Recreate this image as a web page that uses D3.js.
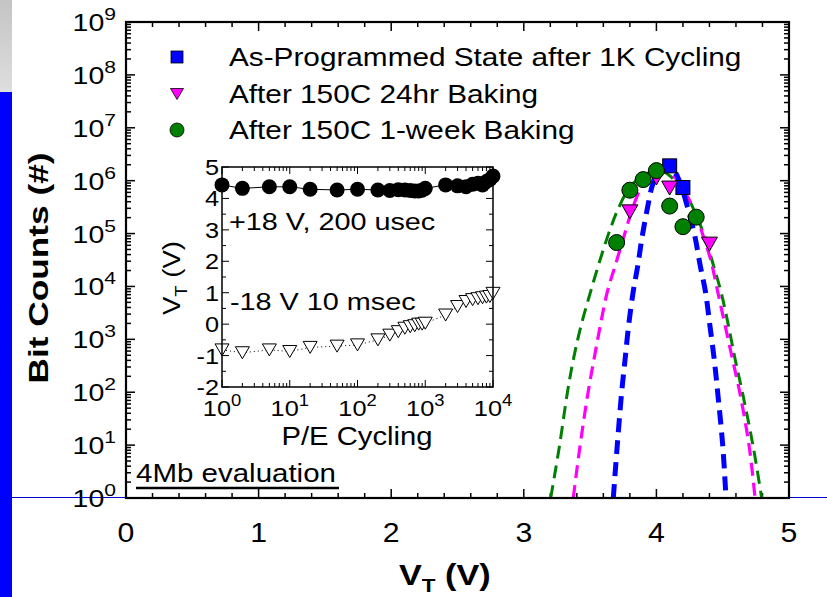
<!DOCTYPE html>
<html>
<head>
<meta charset="utf-8">
<script src="https://cdn.jsdelivr.net/npm/d3@7"></script>
<style>
  html, body { margin: 0; padding: 0; background: #fff; }
  svg { display: block; }
</style>
</head>
<body>
<svg id="chart" width="827" height="597"></svg>
<script>
// ---- data ----
// main plot: VT (V) vs bit count, values as [VT, log10(count)]
const programmedPts = [[4.1, 6.28], [4.2, 5.87]]
const bake24Pts = [[3.8, 5.41], [4.0, 6.05], [4.1, 5.86], [4.4, 4.80]]
const bakeWeekPts = [[3.7, 4.83], [3.8, 5.82], [3.9, 6.02], [4.0, 6.19], [4.1, 5.52], [4.2, 5.13], [4.3, 5.31]]

// dashed fit curves, read point by point
const programmedFit = [[3.675, 0], [3.705, 1], [3.738, 2], [3.763, 2.6], [3.79, 3.25], [3.825, 3.9], [3.86, 4.4], [3.89, 4.9], [3.93, 5.45], [3.975, 5.95], [4.03, 6.2], [4.08, 6.27], [4.13, 6.2], [4.18, 5.95], [4.24, 5.45], [4.29, 4.95], [4.33, 4.4], [4.37, 3.9], [4.404, 3.25], [4.437, 2.6], [4.462, 2], [4.5, 1], [4.525, 0]]
const bake24Fit = [[3.373, 0], [3.425, 1], [3.485, 2], [3.535, 2.7], [3.58, 3.3], [3.63, 3.9], [3.69, 4.4], [3.75, 4.9], [3.81, 5.4], [3.88, 5.85], [3.95, 6.1], [4.03, 6.2], [4.1, 6.15], [4.2, 5.85], [4.29, 5.4], [4.36, 4.9], [4.41, 4.5], [4.465, 3.87], [4.52, 3.24], [4.575, 2.61], [4.63, 1.98], [4.7, 0.97], [4.744, 0]]
const bakeWeekFit = [[3.203, 0], [3.268, 0.97], [3.328, 1.98], [3.373, 2.61], [3.43, 3.24], [3.5, 3.87], [3.575, 4.5], [3.64, 5.0], [3.7, 5.4], [3.78, 5.8], [3.87, 6.05], [3.97, 6.17], [4.05, 6.17], [4.12, 6.05], [4.21, 5.8], [4.3, 5.35], [4.37, 4.9], [4.43, 4.4], [4.49, 3.87], [4.545, 3.24], [4.595, 2.61], [4.65, 1.98], [4.73, 0.97], [4.794, 0]]

const legendLabels = ['As-Programmed State after 1K Cycling', 'After 150C 24hr Baking', 'After 150C 1-week Baking']
const xTicks = [0, 1, 2, 3, 4, 5]
const yExponents = [0, 1, 2, 3, 4, 5, 6, 7, 8, 9]

// inset: VT vs P/E cycles
const cycles = [1, 2, 5, 10, 20, 50, 100, 200, 300, 400, 500, 600, 700, 800, 900, 1000, 2000, 3000, 4000, 5000, 6000, 7000, 8000, 9000, 10000]
const vtProgram = [4.43, 4.32, 4.37, 4.37, 4.29, 4.27, 4.29, 4.27, 4.25, 4.28, 4.27, 4.25, 4.24, 4.24, 4.26, 4.32, 4.43, 4.4, 4.37, 4.45, 4.48, 4.43, 4.54, 4.6, 4.71]
const vtErase = [-0.82, -0.91, -0.82, -0.87, -0.74, -0.7, -0.66, -0.5, -0.35, -0.24, -0.13, -0.08, -0.05, 0.0, 0.0, 0.03, 0.29, 0.56, 0.72, 0.78, 0.81, 0.84, 0.86, 0.88, 0.98]
const insetYTicks = [-2, -1, 0, 1, 2, 3, 4, 5]
const insetXExponents = [0, 1, 2, 3, 4]

// ---- drawing ----
const FONT = 'Liberation Sans, Arial, Helvetica, sans-serif'
const SX = 1.2
const svg = d3.select('#chart')

function label(parent, x, y, size, opts = {}) {
  return parent
    .append('text')
    .attr('transform', `translate(${x},${y}) rotate(${opts.rot || 0}) scale(${opts.sx || SX},1)`)
    .attr('font-family', FONT)
    .attr('font-size', size)
    .attr('font-weight', opts.bold ? 'bold' : 'normal')
    .attr('text-anchor', opts.anchor || 'start')
    .attr('fill', '#000')
}

// slide decoration on the far left
const defs = svg.append('defs')
const grad = defs.append('linearGradient').attr('id', 'gray').attr('x1', 0).attr('y1', 0).attr('x2', 0).attr('y2', 1)
grad.append('stop').attr('offset', '0%').attr('stop-color', '#c4c4c4')
grad.append('stop').attr('offset', '100%').attr('stop-color', '#dedede')
svg.append('rect').attr('x', 0).attr('y', 0).attr('width', 12).attr('height', 92).attr('fill', 'url(#gray)')
svg.append('rect').attr('x', 0).attr('y', 92).attr('width', 12).attr('height', 505).attr('fill', '#0000ff')
svg.append('line').attr('x1', 12).attr('x2', 827).attr('y1', 497.5).attr('y2', 497.5)
  .attr('stroke', '#0000cc').attr('stroke-width', 1.2)

// main scales
const x = d3.scaleLinear().domain([0, 5]).range([126, 789])
const y = d3.scaleLog().domain([1, 1e9]).range([498, 22])
const yl = v => y(Math.pow(10, v))

svg.append('rect').attr('x', 126).attr('y', 22).attr('width', 663).attr('height', 476).attr('fill', '#fff')

// ticks, all pointing inward
const xMinor = d3.range(0, 5.001, 0.2).filter(v => Math.abs(v - Math.round(v)) > 1e-6)
const yMinor = []
yExponents.slice(0, -1).forEach(e => { for (let k = 2; k <= 9; k++) yMinor.push(k * Math.pow(10, e)) })
const yMajor = yExponents.map(e => Math.pow(10, e))

const ticks = svg.append('g').attr('stroke', '#000').attr('stroke-width', 1.5)
function tickLines(vals, pos, len) {
  ticks.selectAll(null).data(vals).join('line').each(function (d) {
    const p = pos(d, len)
    d3.select(this).attr('x1', p[0]).attr('y1', p[1]).attr('x2', p[2]).attr('y2', p[3])
  })
}
tickLines(xTicks, (d, l) => [x(d), 498, x(d), 498 - l], 9)
tickLines(xMinor, (d, l) => [x(d), 498, x(d), 498 - l], 5)
tickLines(xTicks, (d, l) => [x(d), 22, x(d), 22 + l], 9)
tickLines(xMinor, (d, l) => [x(d), 22, x(d), 22 + l], 5)
tickLines(yMajor, (d, l) => [126, y(d), 126 + l, y(d)], 9)
tickLines(yMinor, (d, l) => [126, y(d), 126 + l, y(d)], 5)
tickLines(yMajor, (d, l) => [789, y(d), 789 - l, y(d)], 9)
tickLines(yMinor, (d, l) => [789, y(d), 789 - l, y(d)], 5)

// tick labels
xTicks.forEach(d => label(svg, x(d), 542, 27, { anchor: 'middle', sx: 1.12 }).text(d))
yExponents.forEach(e => {
  const t = label(svg, 116, yl(e) + 9, 23, { anchor: 'end', sx: 1.24 })
  t.append('tspan').text('10')
  t.append('tspan').attr('dy', -11).attr('font-size', 17).text(e)
})

// axis titles
const xt = label(svg, 399, 585, 29, { bold: true, sx: 1.18 })
xt.append('tspan').text('V')
xt.append('tspan').attr('dy', 7).attr('font-size', 19).text('T')
xt.append('tspan').attr('dy', -7).text(' (V)')
label(svg, 48, 268, 28, { bold: true, rot: -90, anchor: 'middle', sx: 1.26 }).text('Bit Counts (#)')

// fit curves, clipped to the frame
defs.append('clipPath').attr('id', 'frame').append('rect')
  .attr('x', 126).attr('y', 22).attr('width', 663).attr('height', 476)
const curve = d3.line().x(d => x(d[0])).y(d => yl(d[1])).curve(d3.curveCatmullRom)
const curves = svg.append('g').attr('clip-path', 'url(#frame)').attr('fill', 'none')
curves.append('path').attr('d', curve(bakeWeekFit)).attr('stroke', '#008000').attr('stroke-width', 3).attr('stroke-dasharray', '13,7')
curves.append('path').attr('d', curve(bake24Fit)).attr('stroke', '#ff00ff').attr('stroke-width', 3.2).attr('stroke-dasharray', '13,7')
curves.append('path').attr('d', curve(programmedFit)).attr('stroke', '#0000ff').attr('stroke-width', 5).attr('stroke-dasharray', '14,8')

// markers
const tri = (cx, cy, w, h) => `M${cx - w / 2},${cy - h / 2}L${cx + w / 2},${cy - h / 2}L${cx},${cy + h / 2}Z`
svg.append('g').selectAll('rect').data(programmedPts).join('rect')
  .attr('x', d => x(d[0]) - 7).attr('y', d => yl(d[1]) - 7).attr('width', 14).attr('height', 14)
  .attr('fill', '#0000ff').attr('stroke', '#000').attr('stroke-width', 1)
svg.append('g').selectAll('path').data(bake24Pts).join('path')
  .attr('d', d => tri(x(d[0]), yl(d[1]), 16, 14))
  .attr('fill', '#ff00ff').attr('stroke', '#000').attr('stroke-width', 1)
svg.append('g').selectAll('circle').data(bakeWeekPts).join('circle')
  .attr('cx', d => x(d[0])).attr('cy', d => yl(d[1])).attr('r', 8)
  .attr('fill', '#008000').attr('stroke', '#000').attr('stroke-width', 1)

// frame
svg.append('rect').attr('x', 126).attr('y', 22).attr('width', 663).attr('height', 476)
  .attr('fill', 'none').attr('stroke', '#000').attr('stroke-width', 2.2)

// legend
const legendY = [57, 94, 130]
svg.append('rect').attr('x', 171).attr('y', legendY[0] - 6).attr('width', 12).attr('height', 12)
  .attr('fill', '#0000ff').attr('stroke', '#000').attr('stroke-width', 0.8)
svg.append('path').attr('d', tri(177, legendY[1], 13, 11))
  .attr('fill', '#ff00ff').attr('stroke', '#000').attr('stroke-width', 0.8)
svg.append('circle').attr('cx', 177).attr('cy', legendY[2]).attr('r', 7)
  .attr('fill', '#008000').attr('stroke', '#000').attr('stroke-width', 0.8)
legendLabels.forEach((s, i) => label(svg, 229, legendY[i] + 9, 25, { sx: 1.19 }).text(s))

// 4Mb evaluation note
label(svg, 136, 482, 25, { sx: 1.18 }).text('4Mb evaluation')
svg.append('line').attr('x1', 136).attr('x2', 339).attr('y1', 488).attr('y2', 488)
  .attr('stroke', '#000').attr('stroke-width', 2.5)

// ---- inset ----
const ix = d3.scaleLog().domain([1, 1e4]).range([222, 493])
const iy = d3.scaleLinear().domain([-2, 5]).range([387, 167])
const inset = svg.append('g')
inset.append('rect').attr('x', 222).attr('y', 167).attr('width', 271).attr('height', 220).attr('fill', '#fff')

const ixMajor = insetXExponents.map(e => Math.pow(10, e))
const ixMinor = []
insetXExponents.slice(0, -1).forEach(e => { for (let k = 2; k <= 9; k++) ixMinor.push(k * Math.pow(10, e)) })
const iyMinor = insetYTicks.slice(0, -1).map(v => v + 0.5)
const iticks = inset.append('g').attr('stroke', '#000').attr('stroke-width', 1)
function itick(vals, pos, len) {
  iticks.selectAll(null).data(vals).join('line').each(function (d) {
    const p = pos(d, len)
    d3.select(this).attr('x1', p[0]).attr('y1', p[1]).attr('x2', p[2]).attr('y2', p[3])
  })
}
itick(ixMajor, (d, l) => [ix(d), 387, ix(d), 387 - l], 7)
itick(ixMinor, (d, l) => [ix(d), 387, ix(d), 387 - l], 4)
itick(ixMajor, (d, l) => [ix(d), 167, ix(d), 167 + l], 7)
itick(ixMinor, (d, l) => [ix(d), 167, ix(d), 167 + l], 4)
itick(insetYTicks, (d, l) => [222, iy(d), 222 + l, iy(d)], 7)
itick(iyMinor, (d, l) => [222, iy(d), 222 + l, iy(d)], 4)
itick(insetYTicks, (d, l) => [493, iy(d), 493 - l, iy(d)], 7)
itick(iyMinor, (d, l) => [493, iy(d), 493 - l, iy(d)], 4)

insetYTicks.forEach(v => label(inset, 219, iy(v) + 8, 22, { anchor: 'end', sx: 1.15 }).text(v))
insetXExponents.forEach(e => {
  const t = label(inset, ix(Math.pow(10, e)), 416, 22, { anchor: 'middle', sx: 1.15 })
  t.append('tspan').text('10')
  t.append('tspan').attr('dy', -10).attr('font-size', 16).text(e)
})
label(inset, 357, 445, 25, { anchor: 'middle', sx: 1.17 }).text('P/E Cycling')
const iyt = label(inset, 180, 278, 24, { anchor: 'middle', rot: -90, sx: 1.15 })
iyt.append('tspan').text('V')
iyt.append('tspan').attr('dy', 7).attr('font-size', 16).text('T')
iyt.append('tspan').attr('dy', -7).text(' (V)')

const progData = cycles.map((c, i) => [c, vtProgram[i]])
const eraseData = cycles.map((c, i) => [c, vtErase[i]])
const iline = d3.line().x(d => ix(d[0])).y(d => iy(d[1]))
inset.append('path').attr('d', iline(progData)).attr('fill', 'none').attr('stroke', '#000').attr('stroke-width', 1)
inset.append('path').attr('d', iline(eraseData)).attr('fill', 'none').attr('stroke', '#000').attr('stroke-width', 1).attr('stroke-dasharray', '1,3')
inset.selectAll('circle').data(progData).join('circle')
  .attr('cx', d => ix(d[0])).attr('cy', d => iy(d[1])).attr('r', 7.5).attr('fill', '#000')
inset.selectAll('path.er').data(eraseData).join('path').attr('class', 'er')
  .attr('d', d => tri(ix(d[0]), iy(d[1]), 14, 12))
  .attr('fill', '#fff').attr('stroke', '#000').attr('stroke-width', 1)

inset.append('rect').attr('x', 222).attr('y', 167).attr('width', 271).attr('height', 220)
  .attr('fill', 'none').attr('stroke', '#000').attr('stroke-width', 1.5)

label(inset, 229, 230, 24, { sx: 1.2 }).text('+18 V, 200 usec')
label(inset, 230, 310, 24, { sx: 1.2 }).text('-18 V 10 msec')
</script>
</body>
</html>
